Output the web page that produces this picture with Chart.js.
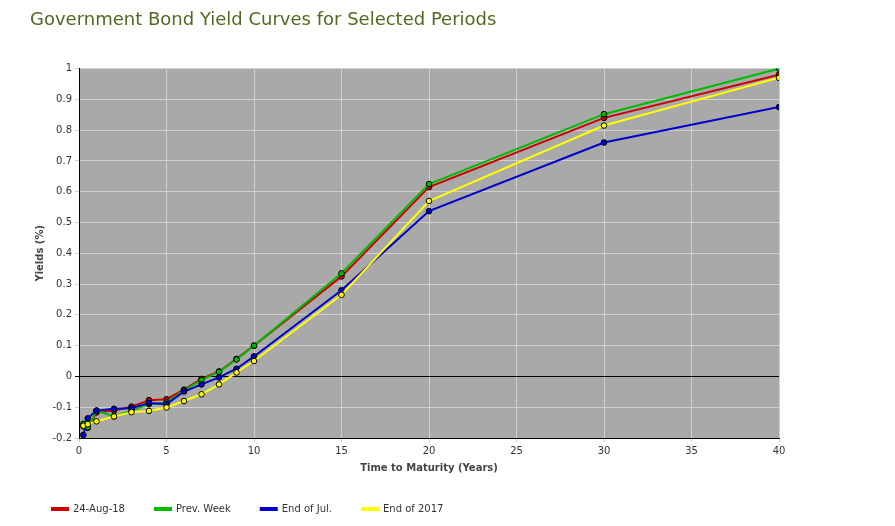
<!DOCTYPE html>
<html>
<head>
<meta charset="utf-8">
<script src="https://cdn.jsdelivr.net/npm/chart.js@4.4.0/dist/chart.umd.min.js"></script>
<style>
    html, body { margin: 0; padding: 0; background: #fff; }
    #wrap { position: relative; width: 895px; height: 526px; }
</style>
</head>
<body>
<div id="wrap"><canvas id="yieldChart"></canvas></div>
<script>
const maturities = [0.25, 0.5, 1, 2, 3, 4, 5, 6, 7, 8, 9, 10, 15, 20, 30, 40];
const latest = [-0.162, -0.167, -0.117, -0.111, -0.098, -0.077, -0.074, -0.043, -0.008, 0.016, 0.057, 0.100, 0.325, 0.615, 0.840, 0.980];
const prevWeek = [-0.154, -0.165, -0.111, -0.130, -0.111, -0.090, -0.085, -0.045, -0.012, 0.015, 0.055, 0.100, 0.335, 0.625, 0.852, 1.000];
const endJul = [-0.190, -0.136, -0.111, -0.105, -0.103, -0.086, -0.090, -0.049, -0.026, -0.003, 0.025, 0.065, 0.280, 0.537, 0.760, 0.875];
const end2017 = [-0.160, -0.155, -0.146, -0.130, -0.116, -0.112, -0.101, -0.080, -0.058, -0.026, 0.013, 0.050, 0.265, 0.570, 0.815, 0.970];

const seriesNames = ['24-Aug-18', 'Prev. Week', 'End of Jul.', 'End of 2017'];
const seriesColors = ['#cc0000', '#00bb00', '#0000cc', '#ffff00'];
const seriesValues = [latest, prevWeek, endJul, end2017];

function toPoints(values) {
    return values.map((v, i) => ({ x: maturities[i], y: v }));
}

// grey plot background
const plotBackground = {
    id: 'plotBackground',
    beforeDraw(chart) {
        const { ctx, chartArea } = chart;
        ctx.save();
        ctx.fillStyle = '#a9a9a9';
        ctx.fillRect(chartArea.left, chartArea.top, chartArea.right - chartArea.left, chartArea.bottom - chartArea.top);
        ctx.restore();
    }
};

// nudge legend to the right
const legendShift = {
    id: 'legendShift',
    afterLayout(chart) {
        chart.legend.left -= 8;
    }
};

const datasets = seriesValues.map((vals, i) => ({
    label: seriesNames[i],
    data: toPoints(vals),
    borderColor: seriesColors[i],
    backgroundColor: seriesColors[i],
    pointBorderColor: '#000',
    pointBorderWidth: 1,
    pointRadius: 2.8,
    borderWidth: 2,
    tension: 0
})).reverse();

new Chart(document.getElementById('yieldChart').getContext('2d'), {
    type: 'line',
    data: { datasets: datasets },
    plugins: [plotBackground, legendShift],
    options: {
        responsive: true,
        maintainAspectRatio: false,
        animation: false,
        layout: { padding: { left: 30, right: 116, top: 0, bottom: 2 } },
        plugins: {
            title: {
                display: true,
                text: 'Government Bond Yield Curves for Selected Periods',
                align: 'start',
                color: '#4f6a1f',
                font: { family: 'DejaVu Sans', size: 18, weight: 'normal' },
                padding: { top: 10, bottom: 37 }
            },
            legend: {
                position: 'bottom',
                align: 'start',
                reverse: true,
                labels: {
                    color: '#333',
                    font: { family: 'DejaVu Sans', size: 10 },
                    boxWidth: 16,
                    boxHeight: 2,
                    padding: 30
                }
            },
            tooltip: { enabled: false }
        },
        scales: {
            x: {
                type: 'linear',
                min: 0,
                max: 40,
                ticks: { stepSize: 5, color: '#333', font: { family: 'DejaVu Sans', size: 10 } },
                grid: { color: '#d0d0d0', drawTicks: true, tickLength: 4 },
                border: { color: '#000' },
                title: {
                    display: true,
                    text: 'Time to Maturity (Years)',
                    color: '#444',
                    font: { family: 'DejaVu Sans', size: 10, weight: 'bold' },
                    padding: { top: 2, bottom: 0 }
                }
            },
            y: {
                min: -0.2,
                max: 1,
                ticks: {
                    stepSize: 0.1,
                    color: '#333',
                    font: { family: 'DejaVu Sans', size: 10 },
                    callback: (v) => Number(v.toFixed(1)).toString()
                },
                grid: {
                    color: (c) => Math.abs(c.tick.value) < 1e-9 ? '#000' : '#d0d0d0',
                    tickLength: 4
                },
                border: { color: '#000' },
                title: {
                    display: true,
                    text: 'Yields (%)',
                    color: '#444',
                    font: { family: 'DejaVu Sans', size: 10, weight: 'bold' }
                },
                afterFit: (scale) => { scale.width = 49; }
            }
        }
    }
});
</script>
</body>
</html>
